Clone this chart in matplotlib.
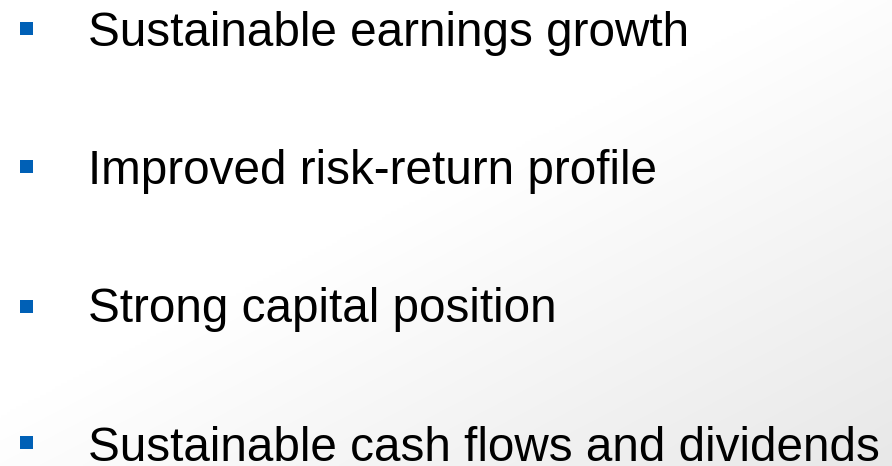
import numpy as np
import matplotlib
matplotlib.use("Agg")
import matplotlib.pyplot as plt
from matplotlib.patches import Rectangle

items = [
    "Sustainable earnings growth",
    "Improved risk-return profile",
    "Strong capital position",
    "Sustainable cash flows and dividends",
]
bullet_centers = [28, 166, 306, 442]
baselines = [45.5, 183.5, 322, 461]

W, H = 892, 466
fig = plt.figure(figsize=(W / 100, H / 100), dpi=100)
ax = fig.add_axes([0, 0, 1, 1])
ax.set_xlim(0, W)
ax.set_ylim(H, 0)
ax.axis("off")

# background gradient
xx, yy = np.meshgrid(np.linspace(0, 1, 300), np.linspace(0, 1, 160))
t = (xx + yy) / 2
g = 1.0 - 0.09 * np.clip((t - 0.45) / 0.55, 0, 1)
img = np.dstack([g, g, g])
ax.imshow(img, extent=[0, W, H, 0], aspect="auto", zorder=0, interpolation="bilinear")

for label, yc, yb in zip(items, bullet_centers, baselines):
    ax.add_patch(Rectangle((20, yc - 6.5), 13, 13, facecolor="#0060b6", edgecolor="none", zorder=2))
    ax.text(88, yb, label, fontsize=34.3, family="Liberation Sans",
            color="black", va="baseline", ha="left", zorder=3)

fig.savefig("out.png", dpi=100)
